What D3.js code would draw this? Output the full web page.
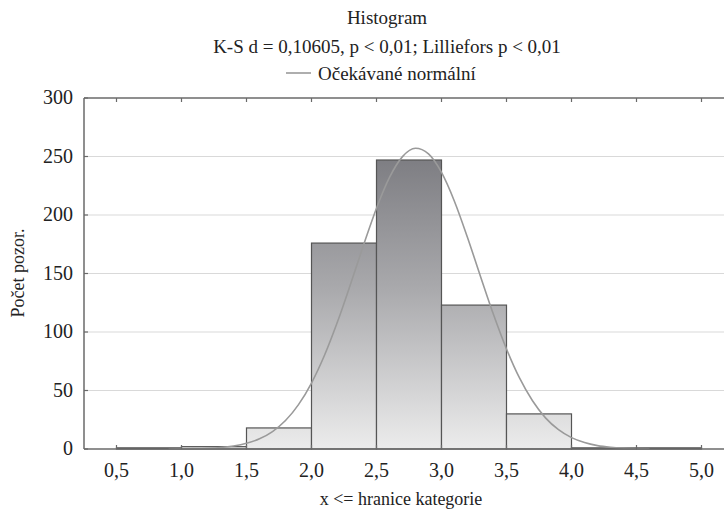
<!DOCTYPE html>
<html>
<head>
<meta charset="utf-8">
<script src="https://cdn.jsdelivr.net/npm/d3@7"></script>
<style>
body { margin:0; background:#fff; }
svg { display:block; }
</style>
</head>
<body>
<script>
// ---- data ----
const binEdges = [0.5, 1.0, 1.5, 2.0, 2.5, 3.0, 3.5, 4.0, 4.5, 5.0];
const binCounts = [1, 2, 18, 176, 247, 123, 30, 1, 1];
const xTicks = [0.5, 1.0, 1.5, 2.0, 2.5, 3.0, 3.5, 4.0, 4.5, 5.0];
const yTicks = [0, 50, 100, 150, 200, 250, 300];
const curveX = [0.9, 1.0, 1.1, 1.2, 1.3, 1.4, 1.5, 1.6, 1.7, 1.8, 1.9, 2.0, 2.1, 2.2, 2.3, 2.4, 2.5, 2.6, 2.7, 2.8, 2.9, 3.0, 3.1, 3.2, 3.3, 3.4, 3.5, 3.6, 3.7, 3.8, 3.9, 4.0, 4.1, 4.2, 4.3, 4.4, 4.5, 4.6];
const curveY = [0.05, 0.13, 0.3, 0.64, 1.3, 2.6, 4.9, 8.7, 14.9, 24.3, 37.9, 56.4, 80.1, 108.7, 140.8, 174.2, 205.8, 232.1, 249.9, 257.0, 252.2, 236.4, 211.6, 180.8, 147.5, 114.9, 85.5, 60.7, 41.2, 26.6, 16.5, 9.7, 5.5, 2.9, 1.5, 0.74, 0.35, 0.15];
const titleText = "Histogram";
const subtitleText = "K-S d = 0,10605, p < 0,01; Lilliefors p < 0,01";
const legendText = "Očekávané normální";
const xTitle = "x <= hranice kategorie";
const yTitle = "Počet pozor.";

const W = 724, H = 513;
const mL = 84, mR = 734, mT = 98, mB = 449;
const FONT = "'Liberation Serif', 'Times New Roman', 'DejaVu Serif', 'Noto Serif', serif";
const fmt = d => d3.format(".1f")(d).replace(".", ",");

const svg = d3.select("body").append("svg").attr("width", W).attr("height", H)
  .attr("font-family", FONT).style("font-family", FONT);

const x = d3.scaleLinear().domain([0.25, 5.25]).range([mL, mR]);
const y = d3.scaleLinear().domain([0, 300]).range([mB, mT]);

// gradient
const defs = svg.append("defs");
const grad = defs.append("linearGradient").attr("id", "barGrad")
  .attr("gradientUnits", "userSpaceOnUse")
  .attr("x1", 0).attr("x2", 0).attr("y1", y(250)).attr("y2", y(0));
grad.append("stop").attr("offset", "0%").attr("stop-color", "#7d7d82");
grad.append("stop").attr("offset", "45%").attr("stop-color", "#a9a9ac");
grad.append("stop").attr("offset", "100%").attr("stop-color", "#ececec");

// gridlines
svg.append("g").selectAll("line").data(yTicks.filter(d => d > 0 && d < 300)).join("line")
  .attr("x1", mL).attr("x2", mR)
  .attr("y1", d => y(d)).attr("y2", d => y(d))
  .attr("stroke", "#d9d9d9").attr("stroke-width", 1.2);

// bars
const bins = binCounts.map((c, i) => ({x0: binEdges[i], x1: binEdges[i + 1], c}));
svg.append("g").selectAll("rect").data(bins).join("rect")
  .attr("x", d => x(d.x0))
  .attr("width", d => x(d.x1) - x(d.x0))
  .attr("y", d => y(d.c))
  .attr("height", d => y(0) - y(d.c))
  .attr("fill", "url(#barGrad)")
  .attr("stroke", "#555")
  .attr("stroke-width", 1.2);

// normal curve
const line = d3.line().x((d, i) => x(curveX[i])).y(d => y(d)).curve(d3.curveMonotoneX);
svg.append("path").datum(curveY).attr("d", line)
  .attr("fill", "none").attr("stroke", "#9a9a9a").attr("stroke-width", 1.6);

// frame
const axisColor = "#6a6a6a";
svg.append("line").attr("x1", mL).attr("x2", mR).attr("y1", mT).attr("y2", mT)
  .attr("stroke", axisColor).attr("stroke-width", 1.5);
svg.append("line").attr("x1", mL).attr("x2", mR).attr("y1", mB).attr("y2", mB)
  .attr("stroke", axisColor).attr("stroke-width", 1.5);
svg.append("line").attr("x1", mL).attr("x2", mL).attr("y1", mT).attr("y2", mB)
  .attr("stroke", axisColor).attr("stroke-width", 1.5);

// x ticks (bottom and top, inward)
svg.append("g").selectAll("line").data(xTicks).join("line")
  .attr("x1", d => x(d)).attr("x2", d => x(d)).attr("y1", mB).attr("y2", mB - 4)
  .attr("stroke", axisColor).attr("stroke-width", 1.2);
svg.append("g").selectAll("line").data(xTicks).join("line")
  .attr("x1", d => x(d)).attr("x2", d => x(d)).attr("y1", mT).attr("y2", mT + 4)
  .attr("stroke", axisColor).attr("stroke-width", 1.2);
const txt = (sel, size) => sel.attr("font-family", FONT).attr("fill", "#222").attr("font-size", size);
svg.append("g").selectAll("text").data(xTicks).join("text")
  .attr("x", d => x(d)).attr("y", 477)
  .attr("text-anchor", "middle").call(txt, 20)
  .text(fmt);

// y ticks
svg.append("g").selectAll("line").data(yTicks).join("line")
  .attr("x1", mL).attr("x2", mL + 4).attr("y1", d => y(d)).attr("y2", d => y(d))
  .attr("stroke", axisColor).attr("stroke-width", 1.2);
svg.append("g").selectAll("text").data(yTicks).join("text")
  .attr("x", 73).attr("y", d => y(d) + 6)
  .attr("text-anchor", "end").call(txt, 20)
  .text(d => d);

// titles
svg.append("text").attr("x", 387).attr("y", 24).attr("text-anchor", "middle")
  .call(txt, 19).text(titleText);
svg.append("text").attr("x", 387).attr("y", 53).attr("text-anchor", "middle")
  .call(txt, 19).text(subtitleText);
// legend
svg.append("line").attr("x1", 286).attr("x2", 311).attr("y1", 73).attr("y2", 73)
  .attr("stroke", "#9a9a9a").attr("stroke-width", 1.6);
svg.append("text").attr("x", 318).attr("y", 80).call(txt, 19).text(legendText);

// axis titles
svg.append("text").attr("x", 401).attr("y", 505).attr("text-anchor", "middle")
  .call(txt, 18).text(xTitle);
svg.append("text").attr("transform", "translate(24,273) rotate(-90)")
  .attr("text-anchor", "middle").call(txt, 18).text(yTitle);
</script>
</body>
</html>
